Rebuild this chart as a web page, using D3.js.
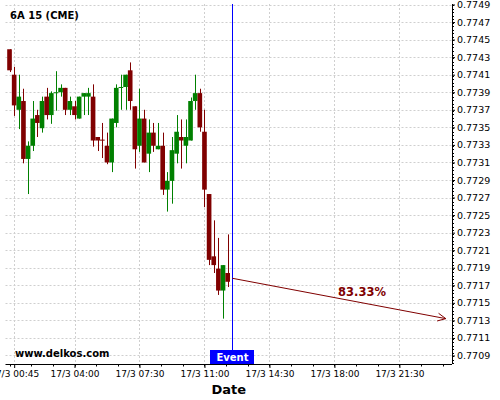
<!DOCTYPE html>
<html><head><meta charset="utf-8">
<script src="https://cdn.jsdelivr.net/npm/d3@7/dist/d3.min.js"></script>
<style>body{margin:0;background:#fff}svg{display:block;font-family:"DejaVu Sans",sans-serif}</style>
</head><body><div id="chart"></div>
<script>
const title = "6A 15 (CME)";
const candleTimes = ["00:30","00:45","01:00","01:15","01:30","01:45","02:00","02:15","02:30","02:45","03:00","03:15",
"03:30","03:45","04:00","04:15","04:30","04:45","05:00","05:15","05:30","05:45","06:00","06:15",
"06:30","06:45","07:00","07:15","07:30","07:45","08:00","08:15","08:30","08:45","09:00","09:15",
"09:30","09:45","10:00","10:15","10:30","10:45","11:00","11:15","11:30","11:45","12:00","12:15"];
const openVals = [0.77439,0.77410,0.77370,0.77380,0.77314,0.77329,0.77364,0.77349,0.77385,0.77364,0.77389,0.77390,
0.77395,0.77370,0.77374,0.77360,0.77385,0.77385,0.77385,0.77339,0.77336,0.77329,0.77310,0.77355,
0.77395,0.77396,0.77415,0.77374,0.77329,0.77360,0.77320,0.77344,0.77325,0.77329,0.77279,0.77289,
0.77320,0.77339,0.77329,0.77335,0.77380,0.77389,0.77345,0.77274,0.77203,0.77189,0.77164,0.77184];
const highVals = [0.77439,0.77419,0.77410,0.77394,0.77334,0.77380,0.77370,0.77385,0.77395,0.77391,0.77414,0.77399,
0.77395,0.77385,0.77380,0.77385,0.77389,0.77395,0.77399,0.77339,0.77355,0.77344,0.77360,0.77399,
0.77410,0.77410,0.77424,0.77374,0.77394,0.77370,0.77359,0.77355,0.77355,0.77344,0.77299,0.77339,
0.77364,0.77359,0.77359,0.77384,0.77410,0.77394,0.77370,0.77274,0.77244,0.77224,0.77193,0.77228];
const lowVals = [0.77413,0.77363,0.77348,0.77309,0.77274,0.77323,0.77339,0.77344,0.77359,0.77354,0.77369,0.77385,
0.77364,0.77364,0.77359,0.77360,0.77364,0.77364,0.77328,0.77323,0.77315,0.77308,0.77299,0.77350,
0.77370,0.77370,0.77370,0.77303,0.77322,0.77310,0.77299,0.77322,0.77325,0.77273,0.77254,0.77263,
0.77309,0.77303,0.77309,0.77335,0.77370,0.77345,0.77259,0.77193,0.77184,0.77159,0.77132,0.77168];
const closeVals = [0.77415,0.77375,0.77385,0.77314,0.77329,0.77360,0.77355,0.77380,0.77364,0.77389,0.77390,0.77395,
0.77370,0.77380,0.77364,0.77385,0.77389,0.77389,0.77335,0.77335,0.77335,0.77310,0.77360,0.77395,
0.77396,0.77410,0.77380,0.77325,0.77360,0.77310,0.77344,0.77329,0.77329,0.77279,0.77289,0.77324,
0.77345,0.77335,0.77339,0.77380,0.77389,0.77350,0.77279,0.77199,0.77193,0.77164,0.77193,0.77174];
const yTickLabels = ["0.7749","0.7747","0.7745","0.7743","0.7741","0.7739","0.7737","0.7735","0.7733","0.7731",
"0.7729","0.7727","0.7725","0.7723","0.7721","0.7719","0.7717","0.7715","0.7713","0.7711","0.7709"];
const xTickTimes = ["00:45","04:00","07:30","11:00","14:30","18:00","21:30"];
const xTickLabels = ["17/3 00:45","17/3 04:00","17/3 07:30","17/3 11:00","17/3 14:30","17/3 18:00","17/3 21:30"];
const eventTime = "12:30";
const eventLabel = "Event";
const arrowTimes = ["12:30","24:00"];
const arrowValues = [0.77178, 0.77132];
const arrowLabel = "83.33%";
const watermark = "www.delkos.com";
const xTitle = "Date";

const W = 500, H = 400;
const L = 5.5, R = 452, T = 4, B = 364;
const t = s => { const [h, m] = s.split(":").map(Number); return new Date(Date.UTC(2017, 2, 17, h, m)); };

const x = d3.scaleTime()
  .domain([new Date(Date.UTC(2017,2,17,0,17)), new Date(Date.UTC(2017,2,18,0,20))])
  .range([L, R]);
const y = d3.scaleLinear().domain([0.770803, 0.7749057]).range([B, T]);

const svg = d3.select("#chart").append("svg").attr("width", W).attr("height", H);

// grid
const gridColor = "#cfcfcf";
svg.append("g").selectAll("line").data(yTickLabels).join("line")
  .attr("x1", L).attr("x2", R)
  .attr("y1", d => Math.round(y(+d)) + 0.5).attr("y2", d => Math.round(y(+d)) + 0.5)
  .attr("stroke", gridColor).attr("stroke-dasharray", "2,2");
svg.append("g").selectAll("line").data(xTickTimes).join("line")
  .attr("x1", d => Math.round(x(t(d))) + 0.5).attr("x2", d => Math.round(x(t(d))) + 0.5)
  .attr("y1", T).attr("y2", B)
  .attr("stroke", gridColor).attr("stroke-dasharray", "2,2");

// candles
const data = candleTimes.map((s, i) => ({t: t(s), o: openVals[i], h: highVals[i], l: lowVals[i], c: closeVals[i]}));
const bw = x(t("00:45")) - x(t("00:30"));
const cg = svg.append("g");
data.forEach(d => {
  const cx = x(d.t);
  const col = d.c >= d.o ? "#008000" : "#800000";
  cg.append("line").attr("x1", Math.round(cx) + 0.5).attr("x2", Math.round(cx) + 0.5)
    .attr("y1", y(d.h)).attr("y2", y(d.l)).attr("stroke", col).attr("stroke-width", 1);
  const top = y(Math.max(d.o, d.c)), bot = y(Math.min(d.o, d.c));
  cg.append("rect").attr("x", cx - bw / 2).attr("width", bw)
    .attr("y", top).attr("height", Math.max(1, bot - top)).attr("fill", col);
});

// event line
const ex = Math.round(x(t(eventTime))) + 0.5;
svg.append("line").attr("x1", ex).attr("x2", ex).attr("y1", T).attr("y2", 350)
  .attr("stroke", "#0000ff").attr("stroke-width", 1);

// arrow
const ax1 = x(t(arrowTimes[0])), ay1 = y(arrowValues[0]);
const ax2 = x(new Date(Date.UTC(2017,2,18,0,0))), ay2 = y(arrowValues[1]);
const ag = svg.append("g").attr("stroke", "#800000").attr("fill", "none").attr("stroke-width", 1);
ag.append("line").attr("x1", ax1).attr("y1", ay1).attr("x2", ax2).attr("y2", ay2);
const ang = Math.atan2(ay2 - ay1, ax2 - ax1);
[0.45, -0.45].forEach(a => {
  ag.append("line").attr("x1", ax2).attr("y1", ay2)
    .attr("x2", ax2 - 9 * Math.cos(ang + a)).attr("y2", ay2 - 9 * Math.sin(ang + a));
});
svg.append("text").attr("x", 362).attr("y", 296).attr("text-anchor", "middle")
  .attr("font-size", 11.5).attr("font-weight", "bold").attr("fill", "#800000").text(arrowLabel);

// axes
const yAxis = d3.axisRight(y).tickValues(yTickLabels.map(Number)).tickFormat(d3.format(".4f")).tickSize(3).tickPadding(2);
const ya = svg.append("g").attr("transform", `translate(${R},0)`).call(yAxis);
ya.select(".domain").attr("d", `M0.5,${T}V${B}`);
ya.selectAll("text").attr("font-size", 9.5).attr("font-family", "DejaVu Sans").attr("fill", "#000");
const minorY = d3.range(0.77081, 0.7749, 0.00004);
ya.append("g").selectAll("line").data(minorY).join("line")
  .attr("x1", 0).attr("x2", 2).attr("y1", d => Math.round(y(d)) + 0.5).attr("y2", d => Math.round(y(d)) + 0.5)
  .attr("stroke", "#000");

const xAxis = d3.axisBottom(x).tickValues(xTickTimes.map(t)).tickFormat((d, i) => xTickLabels[i]).tickSize(4).tickPadding(3);
const xa = svg.append("g").attr("transform", `translate(0,${B})`).call(xAxis);
xa.select(".domain").attr("d", `M${L},0.5H${R}`);
xa.selectAll("text").attr("font-size", 9).attr("font-family", "DejaVu Sans").attr("fill", "#000");
// minor x ticks: three per 3.5-hour interval
const base = t("04:00").getTime(), step = 70 * 60000;
const minorX = d3.range(-3, 20).map(k => new Date(base + k * step))
  .filter(d => x(d) >= L && x(d) <= R);
xa.append("g").selectAll("line").data(minorX).join("line")
  .attr("x1", d => Math.round(x(d)) + 0.5).attr("x2", d => Math.round(x(d)) + 0.5)
  .attr("y1", 0).attr("y2", 2.5).attr("stroke", "#000");

// labels
svg.append("text").attr("x", 10).attr("y", 19).attr("font-size", 10).attr("font-weight", "bold").text(title);
svg.append("text").attr("x", 15).attr("y", 357).attr("font-size", 10).attr("font-weight", "bold").text(watermark);
svg.append("rect").attr("x", 210).attr("y", 350).attr("width", 44).attr("height", 14).attr("fill", "#0000ff");
svg.append("text").attr("x", ex).attr("y", 361).attr("text-anchor", "middle").attr("font-size", 10)
  .attr("font-weight", "bold").attr("fill", "#fff").text(eventLabel);
svg.append("text").attr("x", (L + R) / 2).attr("y", 394).attr("text-anchor", "middle").attr("font-size", 13)
  .attr("font-weight", "bold").text(xTitle);
</script></body></html>
